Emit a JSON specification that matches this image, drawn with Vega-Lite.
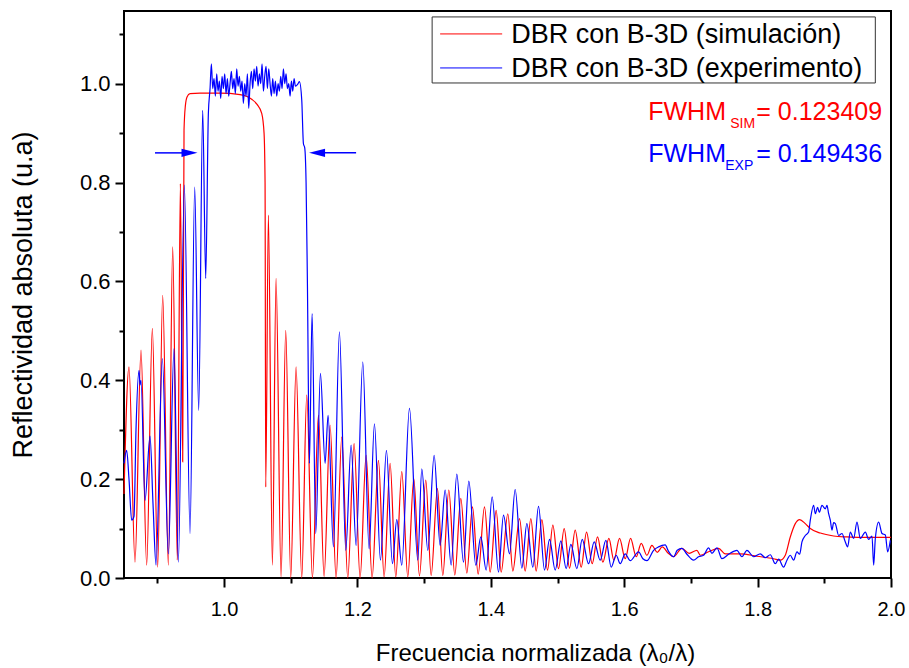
{
  "$schema": "https://vega.github.io/schema/vega-lite/v6.json",
  "width": 767,
  "height": 567,
  "autosize": {"type": "none"},
  "padding": {"left": 124, "top": 11, "right": 18, "bottom": 90},
  "background": "white",
  "config": {
    "font": "Liberation Sans",
    "view": {"stroke": "black", "strokeWidth": 2},
    "axis": {"domain": false, "grid": false, "tickColor": "black", "tickWidth": 2, "labelColor": "black", "titleColor": "black", "titleFontWeight": "normal"}
  },
  "datasets": {
    "sim": [
      {"f":0.85,"r":0.17},{"f":0.8575,"r":0.427},{"f":0.8665,"r":0.032},{"f":0.8755,"r":0.461},{"f":0.884,"r":0.026},{"f":0.8925,"r":0.505},{"f":0.9005,"r":0.022},{"f":0.908,"r":0.572},{"f":0.9165,"r":0.026},{"f":0.923,"r":0.67},{"f":0.93,"r":0.036},{"f":0.9345,"r":0.798},{"f":0.938,"r":0.235},{"f":0.94,"r":0.906},{"f":0.942,"r":0.955},{"f":0.9445,"r":0.973},{"f":0.949,"r":0.98},{"f":0.964,"r":0.981},{"f":0.994,"r":0.981},{"f":1.024,"r":0.978},{"f":1.0345,"r":0.974},{"f":1.042,"r":0.968},{"f":1.0495,"r":0.958},{"f":1.0565,"r":0.94},{"f":1.06,"r":0.9},{"f":1.0615,"r":0.8},{"f":1.0625,"r":0.184},{"f":1.0665,"r":0.734},{"f":1.0725,"r":0.026},{"f":1.078,"r":0.606},{"f":1.0855,"r":0.002},{"f":1.0925,"r":0.501},{"f":1.1,"r":0.0},{"f":1.108,"r":0.427},{"f":1.1165,"r":0.0},{"f":1.124,"r":0.37},{"f":1.1325,"r":0.0},{"f":1.1415,"r":0.329},{"f":1.15,"r":0.003},{"f":1.159,"r":0.309},{"f":1.168,"r":0.0},{"f":1.1765,"r":0.285},{"f":1.1855,"r":0.0},{"f":1.195,"r":0.272},{"f":1.204,"r":0.0},{"f":1.213,"r":0.248},{"f":1.222,"r":0.0},{"f":1.2315,"r":0.238},{"f":1.24,"r":0.002},{"f":1.249,"r":0.232},{"f":1.2575,"r":0.002},{"f":1.2665,"r":0.215},{"f":1.2755,"r":0.002},{"f":1.2845,"r":0.201},{"f":1.293,"r":0.004},{"f":1.3025,"r":0.198},{"f":1.3105,"r":0.005},{"f":1.32,"r":0.181},{"f":1.328,"r":0.005},{"f":1.337,"r":0.178},{"f":1.346,"r":0.006},{"f":1.355,"r":0.161},{"f":1.364,"r":0.01},{"f":1.3725,"r":0.144},{"f":1.381,"r":0.008},{"f":1.3905,"r":0.144},{"f":1.399,"r":0.012},{"f":1.408,"r":0.137},{"f":1.4155,"r":0.012},{"f":1.4255,"r":0.13},{"f":1.433,"r":0.014},{"f":1.443,"r":0.12},{"f":1.4515,"r":0.014},{"f":1.46,"r":0.12},{"f":1.468,"r":0.014},{"f":1.4765,"r":0.118},{"f":1.485,"r":0.016},{"f":1.493,"r":0.107},{"f":1.5015,"r":0.019},{"f":1.51,"r":0.1},{"f":1.518,"r":0.02},{"f":1.5265,"r":0.097},{"f":1.5355,"r":0.022},{"f":1.5435,"r":0.093},{"f":1.552,"r":0.029},{"f":1.56,"r":0.083},{"f":1.568,"r":0.032},{"f":1.577,"r":0.08},{"f":1.5845,"r":0.036},{"f":1.593,"r":0.08},{"f":1.6015,"r":0.039},{"f":1.6095,"r":0.08},{"f":1.618,"r":0.043},{"f":1.6255,"r":0.07},{"f":1.634,"r":0.046},{"f":1.6415,"r":0.066},{"f":1.6495,"r":0.052},{"f":1.657,"r":0.063},{"f":1.666,"r":0.05},{"f":1.674,"r":0.043},{"f":1.6865,"r":0.06},{"f":1.6975,"r":0.05},{"f":1.709,"r":0.056},{"f":1.714,"r":0.046},{"f":1.7265,"r":0.053},{"f":1.7415,"r":0.06},{"f":1.7515,"r":0.049},{"f":1.774,"r":0.049},{"f":1.799,"r":0.044},{"f":1.824,"r":0.039},{"f":1.834,"r":0.036},{"f":1.8415,"r":0.046},{"f":1.849,"r":0.083},{"f":1.8565,"r":0.11},{"f":1.863,"r":0.118},{"f":1.8715,"r":0.11},{"f":1.879,"r":0.1},{"f":1.894,"r":0.091},{"f":1.914,"r":0.085},{"f":1.934,"r":0.083},{"f":1.954,"r":0.082},{"f":2.0,"r":0.082}
    ],
    "exp": [
      {"f":0.85,"r":0.232},{"f":0.854,"r":0.258},{"f":0.8575,"r":0.2},{"f":0.8615,"r":0.117},{"f":0.865,"r":0.125},{"f":0.868,"r":0.3},{"f":0.8725,"r":0.42},{"f":0.874,"r":0.39},{"f":0.8755,"r":0.4},{"f":0.8815,"r":0.157},{"f":0.889,"r":0.287},{"f":0.8935,"r":0.15},{"f":0.898,"r":0.026},{"f":0.9075,"r":0.444},{"f":0.9165,"r":0.049},{"f":0.925,"r":0.464},{"f":0.9315,"r":0.032},{"f":0.9405,"r":0.795},{"f":0.949,"r":0.09},{"f":0.956,"r":0.791},{"f":0.962,"r":0.339},{"f":0.968,"r":0.946},{"f":0.9725,"r":0.606},{"f":0.9765,"r":0.94},
      {"f":0.979,"r":0.99},{"f":0.981,"r":1.04},{"f":0.983,"r":0.99},{"f":0.985,"r":1.01},{"f":0.987,"r":0.975},{"f":0.989,"r":1.02},{"f":0.991,"r":0.985},{"f":0.993,"r":1.005},{"f":0.995,"r":0.97},{"f":0.997,"r":1.015},{"f":0.999,"r":0.99},{"f":1.001,"r":1.02},{"f":1.003,"r":0.98},{"f":1.005,"r":1.01},{"f":1.007,"r":0.975},{"f":1.009,"r":1.0},{"f":1.011,"r":1.025},{"f":1.013,"r":0.99},{"f":1.015,"r":1.01},{"f":1.017,"r":0.98},{"f":1.019,"r":1.03},{"f":1.021,"r":0.995},{"f":1.023,"r":1.015},{"f":1.025,"r":0.985},{"f":1.027,"r":1.005},{"f":1.029,"r":0.96},{"f":1.031,"r":1.0},{"f":1.033,"r":0.975},{"f":1.035,"r":1.02},{"f":1.037,"r":0.95},{"f":1.039,"r":1.0},{"f":1.041,"r":1.025},{"f":1.043,"r":0.99},{"f":1.045,"r":1.03},{"f":1.047,"r":1.005},{"f":1.049,"r":1.035},{"f":1.051,"r":0.995},{"f":1.053,"r":1.02},{"f":1.055,"r":1.0},{"f":1.057,"r":1.04},{"f":1.059,"r":0.985},{"f":1.061,"r":1.015},{"f":1.063,"r":1.035},{"f":1.065,"r":0.99},{"f":1.067,"r":1.03},{"f":1.069,"r":1.0},{"f":1.071,"r":0.975},{"f":1.073,"r":1.01},{"f":1.075,"r":0.98},{"f":1.077,"r":1.005},{"f":1.079,"r":0.975},{"f":1.081,"r":1.0},{"f":1.083,"r":0.985},{"f":1.085,"r":1.015},{"f":1.087,"r":0.99},{"f":1.089,"r":1.03},{"f":1.091,"r":1.0},{"f":1.093,"r":1.02},{"f":1.095,"r":0.99},{"f":1.097,"r":1.0},{"f":1.099,"r":0.975},{"f":1.101,"r":1.005},{"f":1.103,"r":0.985},{"f":1.105,"r":1.01},{"f":1.107,"r":0.995},{"f":1.111,"r":1.0},
      {"f":1.113,"r":1.004},{"f":1.1165,"r":0.967},{"f":1.119,"r":0.879},{"f":1.121,"r":0.87},{"f":1.123,"r":0.8},{"f":1.125,"r":0.596},{"f":1.128,"r":0.232},{"f":1.132,"r":0.535},{"f":1.1375,"r":0.09},{"f":1.1445,"r":0.414},{"f":1.1515,"r":0.232},{"f":1.156,"r":0.329},{"f":1.164,"r":0.063},{"f":1.173,"r":0.498},{"f":1.1825,"r":0.056},{"f":1.1905,"r":0.269},{"f":1.198,"r":0.066},{"f":1.208,"r":0.437},{"f":1.2175,"r":0.059},{"f":1.2255,"r":0.312},{"f":1.2345,"r":0.036},{"f":1.2435,"r":0.258},{"f":1.2525,"r":0.029},{"f":1.259,"r":0.118},{"f":1.2665,"r":0.026},{"f":1.278,"r":0.343},{"f":1.2905,"r":0.036},{"f":1.2965,"r":0.221},{"f":1.3055,"r":0.056},{"f":1.315,"r":0.248},{"f":1.324,"r":0.066},{"f":1.3315,"r":0.178},{"f":1.3405,"r":0.026},{"f":1.349,"r":0.21},{"f":1.359,"r":0.032},{"f":1.367,"r":0.196},{"f":1.3775,"r":0.026},{"f":1.385,"r":0.083},{"f":1.393,"r":0.016},{"f":1.402,"r":0.164},{"f":1.4115,"r":0.012},{"f":1.419,"r":0.127},{"f":1.428,"r":0.049},{"f":1.4365,"r":0.179},{"f":1.4465,"r":0.02},{"f":1.454,"r":0.11},{"f":1.463,"r":0.022},{"f":1.4715,"r":0.145},{"f":1.4805,"r":0.016},{"f":1.488,"r":0.078},{"f":1.4965,"r":0.016},{"f":1.505,"r":0.075},{"f":1.513,"r":0.019},{"f":1.52,"r":0.068},{"f":1.529,"r":0.019},{"f":1.537,"r":0.078},{"f":1.5465,"r":0.029},{"f":1.555,"r":0.073},{"f":1.564,"r":0.036},{"f":1.5725,"r":0.076},{"f":1.5805,"r":0.022},{"f":1.588,"r":0.046},{"f":1.594,"r":0.029},{"f":1.6015,"r":0.049},{"f":1.609,"r":0.035},{"f":1.6215,"r":0.053},{"f":1.628,"r":0.039},{"f":1.634,"r":0.035},{"f":1.644,"r":0.056},{"f":1.6515,"r":0.063},{"f":1.6615,"r":0.067},{"f":1.666,"r":0.055},{"f":1.674,"r":0.043},{"f":1.6795,"r":0.056},{"f":1.6865,"r":0.06},{"f":1.694,"r":0.048},{"f":1.704,"r":0.036},{"f":1.7115,"r":0.043},{"f":1.719,"r":0.046},{"f":1.7265,"r":0.061},{"f":1.7315,"r":0.05},{"f":1.739,"r":0.061},{"f":1.7465,"r":0.039},{"f":1.7565,"r":0.048},{"f":1.769,"r":0.056},{"f":1.7765,"r":0.043},{"f":1.784,"r":0.056},{"f":1.794,"r":0.043},{"f":1.804,"r":0.049},{"f":1.8115,"r":0.041},{"f":1.819,"r":0.047},{"f":1.8265,"r":0.029},{"f":1.8315,"r":0.038},{"f":1.839,"r":0.022},{"f":1.844,"r":0.036},{"f":1.849,"r":0.046},{"f":1.854,"r":0.036},{"f":1.859,"r":0.053},{"f":1.863,"r":0.048},{"f":1.8665,"r":0.073},{"f":1.8715,"r":0.086},{"f":1.8765,"r":0.093},{"f":1.879,"r":0.117},{"f":1.884,"r":0.147},{"f":1.8865,"r":0.13},{"f":1.89,"r":0.143},{"f":1.8925,"r":0.133},{"f":1.8965,"r":0.147},{"f":1.9015,"r":0.14},{"f":1.904,"r":0.147},{"f":1.9065,"r":0.13},{"f":1.909,"r":0.117},{"f":1.9115,"r":0.097},{"f":1.914,"r":0.112},{"f":1.9165,"r":0.11},{"f":1.9215,"r":0.086},{"f":1.9265,"r":0.09},{"f":1.931,"r":0.075},{"f":1.935,"r":0.063},{"f":1.939,"r":0.093},{"f":1.944,"r":0.08},{"f":1.949,"r":0.113},{"f":1.954,"r":0.08},{"f":1.9615,"r":0.093},{"f":1.9665,"r":0.078},{"f":1.9715,"r":0.085},{"f":1.974,"r":0.026},{"f":1.9765,"r":0.08},{"f":1.9815,"r":0.113},{"f":1.9865,"r":0.09},{"f":1.9915,"r":0.087},{"f":1.995,"r":0.053},{"f":1.999,"r":0.076}
    ],
    "arrows": [{"f":0.8965,"f2":0.942,"r":0.86},{"f":1.198,"f2":1.137,"r":0.86}],
    "headL": [{"f":0.9482,"r":0.86}],
    "headR": [{"f":1.1395,"r":0.86}],
    "legendBox": [{"f":1.312,"f2":1.9765,"r":1.135,"r2":1.0014}],
    "legendLines": [
      {"f":1.324,"f2":1.417,"r":1.1006,"s":"DBR con B-3D (simulación)"},
      {"f":1.324,"f2":1.417,"r":1.0318,"s":"DBR con B-3D (experimento)"}
    ],
    "legendText": [
      {"f":1.4305,"r":1.082,"t":"DBR con B-3D (simulación)"},
      {"f":1.4305,"r":1.0136,"t":"DBR con B-3D (experimento)"}
    ],
    "simBig": [{"f":1.636,"r":0.9265,"t":"FWHM"},{"f":1.798,"r":0.9265,"t":"= 0.123409"}],
    "simSub": [{"f":1.759,"r":0.91,"t":"SIM"}],
    "expBig": [{"f":1.636,"r":0.842,"t":"FWHM"},{"f":1.798,"r":0.842,"t":"= 0.149436"}],
    "expSub": [{"f":1.7515,"r":0.825,"t":"EXP"}]
  },
  "encoding": {
    "x": {
      "field": "f", "type": "quantitative",
      "scale": {"domain": [0.85, 2.0], "nice": false, "zero": false},
      "axis": {
        "values": [0.9,1.0,1.1,1.2,1.3,1.4,1.5,1.6,1.7,1.8,1.9,2.0],
        "labelExpr": "round(datum.value*10) % 2 == 1 ? '' : format(datum.value, '.1f')",
        "tickSize": {"condition": {"test": "round(datum.value*10) % 2 == 1", "value": 5}, "value": 9},
        "labelFontSize": 20, "labelPadding": 12, "labelOverlap": false, "labelFlush": false,
        "title": "Frecuencia normalizada (λ₀/λ)", "titleFontSize": 24,
        "titleX": 411, "titleY": 82, "titleBaseline": "alphabetic", "titleAlign": "center", "titleAnchor": null
      }
    },
    "y": {
      "field": "r", "type": "quantitative",
      "scale": {"domain": [0, 1.147], "nice": false, "zero": false},
      "axis": {
        "values": [0,0.1,0.2,0.3,0.4,0.5,0.6,0.7,0.8,0.9,1.0,1.1],
        "labelExpr": "round(datum.value*10) % 2 == 1 ? '' : format(datum.value, '.1f')",
        "tickSize": {"condition": {"test": "round(datum.value*10) % 2 == 1", "value": 5}, "value": 9},
        "labelFontSize": 22, "labelPadding": 5, "labelOverlap": false, "labelFlush": false,
        "title": "Reflectividad absoluta (u.a)", "titleFontSize": 27, "titlePadding": 42
      }
    }
  },
  "layer": [
    {
      "data": {"name": "sim"},
      "mark": {"type": "line", "strokeWidth": 1.2, "interpolate": "monotone"},
      "encoding": {
        "color": {
          "datum": "DBR con B-3D (simulación)",
          "scale": {"domain": ["DBR con B-3D (simulación)", "DBR con B-3D (experimento)"], "range": ["#ff0000", "#0000ff"]},
          "legend": null
        }
      }
    },
    {
      "data": {"name": "exp"},
      "mark": {"type": "line", "strokeWidth": 1.2, "interpolate": "monotone"},
      "encoding": {"color": {"datum": "DBR con B-3D (experimento)", "legend": null}}
    },
    {
      "data": {"name": "arrows"},
      "mark": {"type": "rule", "color": "#0000ff", "strokeWidth": 1.5},
      "encoding": {"x2": {"field": "f2"}}
    },
    {
      "data": {"name": "headL"},
      "mark": {"type": "point", "shape": "M -1 -0.52 L 1 0 L -1 0.52 Z", "size": 256, "filled": true, "color": "#0000ff", "opacity": 1, "strokeWidth": 0},
      "encoding": {}
    },
    {
      "data": {"name": "headR"},
      "mark": {"type": "point", "shape": "M 1 -0.52 L -1 0 L 1 0.52 Z", "size": 256, "filled": true, "color": "#0000ff", "opacity": 1, "strokeWidth": 0},
      "encoding": {}
    },
    {
      "data": {"name": "legendBox"},
      "mark": {"type": "rect", "fill": "white", "stroke": "#333333", "strokeWidth": 1},
      "encoding": {"x2": {"field": "f2"}, "y2": {"field": "r2"}}
    },
    {
      "data": {"name": "legendLines"},
      "mark": {"type": "rule", "strokeWidth": 1},
      "encoding": {"x2": {"field": "f2"}, "color": {"field": "s", "type": "nominal", "legend": null}}
    },
    {
      "data": {"name": "legendText"},
      "mark": {"type": "text", "align": "left", "baseline": "alphabetic", "fontSize": 27, "color": "black"},
      "encoding": {"text": {"field": "t"}}
    },
    {
      "data": {"name": "simBig"},
      "mark": {"type": "text", "align": "left", "baseline": "alphabetic", "fontSize": 25, "color": "#ff0000"},
      "encoding": {"text": {"field": "t"}}
    },
    {
      "data": {"name": "simSub"},
      "mark": {"type": "text", "align": "left", "baseline": "alphabetic", "fontSize": 14, "color": "#ff0000"},
      "encoding": {"text": {"field": "t"}}
    },
    {
      "data": {"name": "expBig"},
      "mark": {"type": "text", "align": "left", "baseline": "alphabetic", "fontSize": 25, "color": "#0000ff"},
      "encoding": {"text": {"field": "t"}}
    },
    {
      "data": {"name": "expSub"},
      "mark": {"type": "text", "align": "left", "baseline": "alphabetic", "fontSize": 14, "color": "#0000ff"},
      "encoding": {"text": {"field": "t"}}
    }
  ]
}
